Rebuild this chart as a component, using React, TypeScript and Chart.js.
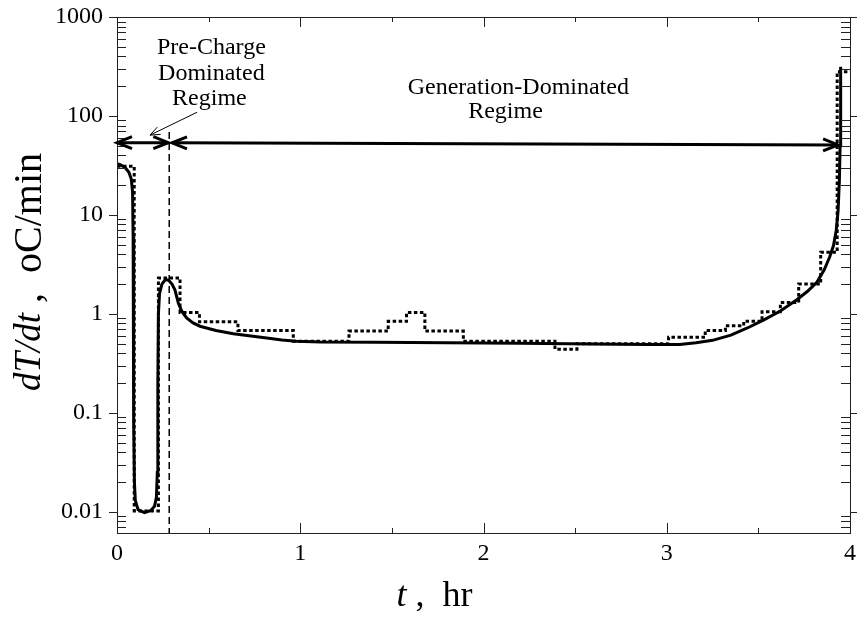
import React, { useEffect, useRef } from 'react';
import { Chart, registerables } from 'chart.js';

Chart.register(...registerables);

// ---- data ----
const modelT = [0, 0.02, 0.045, 0.065, 0.078, 0.085, 0.088, 0.09, 0.092, 0.095, 0.1, 0.115, 0.15, 0.185, 0.205, 0.215, 0.22, 0.223, 0.226, 0.232, 0.245, 0.262, 0.28, 0.3, 0.316, 0.335, 0.355, 0.38, 0.415, 0.453, 0.54, 0.635, 0.72, 0.817, 0.9, 0.98, 1.11, 1.4, 1.8, 2.2, 2.6, 2.9, 3.07, 3.16, 3.25, 3.35, 3.44, 3.53, 3.62, 3.71, 3.77, 3.82, 3.86, 3.89, 3.91, 3.925, 3.935, 3.942, 3.946, 3.948, 3.95];
const modelRate = [33, 32, 30, 27, 23, 17, 6, 0.8, 0.08, 0.02, 0.013, 0.0105, 0.0098, 0.0103, 0.0114, 0.014, 0.025, 0.2, 1.0, 1.6, 2.0, 2.2, 2.2, 2.0, 1.75, 1.28, 1.05, 0.91, 0.81, 0.75, 0.68, 0.63, 0.6, 0.57, 0.545, 0.53, 0.52, 0.515, 0.51, 0.505, 0.495, 0.49, 0.49, 0.51, 0.54, 0.61, 0.72, 0.87, 1.07, 1.39, 1.7, 2.1, 2.8, 3.8, 4.9, 7, 11, 22, 50, 120, 315];

const measT = [0, 0.094, 0.226, 0.344, 0.45, 0.66, 0.962, 1.266, 1.48, 1.58, 1.68, 1.89, 2.39, 2.51, 3.01, 3.21, 3.32, 3.42, 3.52, 3.62, 3.72, 3.84, 3.93, 4.0];
const measRate = [31, 0.0102, 2.3, 1.03, 0.83, 0.68, 0.53, 0.67, 0.84, 1.03, 0.67, 0.53, 0.44, 0.5, 0.58, 0.68, 0.76, 0.84, 1.05, 1.3, 2.0, 4.2, 280, 280];

const xTickValues = [0, 1, 2, 3, 4];
const xTickLabels = ['0', '1', '2', '3', '4'];
const yTickValues = [0.01, 0.1, 1, 10, 100, 1000];
const yTickLabels = ['0.01', '0.1', '1', '10', '100', '1000'];

// regime annotations (data units)
const regimeBoundaryT = 0.285;
const regimeBoundaryTop = 69;
const preArrow = { t0: 0, t1: 0.28, v0: 53.7, v1: 53.7 };
const genArrow = { t0: 0.3, t1: 3.935, v0: 53.5, v1: 51 };
const pointer = { t0: 0.437, v0: 109, t1: 0.18, v1: 64 };
const preLabel = ['Pre-Charge', 'Dominated', 'Regime'];
const genLabel = ['Generation-Dominated', 'Regime'];

const X_MIN = 0, X_MAX = 4, Y_MIN = 0.0061, Y_MAX = 1000;
const SERIF = '"Liberation Serif", "Times New Roman", serif';

function arrowHead(ctx: CanvasRenderingContext2D, x: number, y: number, ang: number, len: number, half: number) {
  const bx = x - len * Math.cos(ang), by = y - len * Math.sin(ang);
  const px = -Math.sin(ang) * half, py = Math.cos(ang) * half;
  ctx.beginPath();
  ctx.moveTo(bx + px, by + py);
  ctx.lineTo(x, y);
  ctx.lineTo(bx - px, by - py);
  ctx.stroke();
}

const decorPlugin = {
  id: 'decor',
  afterDraw(chart: any) {
    const ctx: CanvasRenderingContext2D = chart.ctx;
    const xs = chart.scales.x, ys = chart.scales.y;
    const { left, right, top, bottom } = chart.chartArea;
    ctx.save();
    // frame
    ctx.strokeStyle = '#222';
    ctx.lineWidth = 1;
    ctx.strokeRect(Math.round(left) + 0.5, Math.round(top) + 0.5, Math.round(right - left), Math.round(bottom - top));
    // y ticks
    ctx.beginPath();
    for (let d = -3; d <= 3; d++) {
      for (let m = 1; m <= 9; m++) {
        const v = m * Math.pow(10, d);
        if (v < Y_MIN * 0.999 || v > Y_MAX * 1.001) continue;
        const py = Math.round(ys.getPixelForValue(v)) + 0.5;
        if (m === 1) {
          ctx.moveTo(left - 8, py); ctx.lineTo(left, py);
          ctx.moveTo(right, py); ctx.lineTo(right + 7, py);
        } else {
          ctx.moveTo(left, py); ctx.lineTo(left + 9, py);
          ctx.moveTo(right - 9, py); ctx.lineTo(right, py);
        }
      }
    }
    // x ticks
    for (let i = 1; i < 8; i++) {
      const t = i * 0.5;
      const px = Math.round(xs.getPixelForValue(t)) + 0.5;
      const len = i % 2 === 0 ? 10 : 5;
      ctx.moveTo(px, bottom); ctx.lineTo(px, bottom - len);
      ctx.moveTo(px, top); ctx.lineTo(px, top + len);
    }
    ctx.stroke();

    // regime boundary dashed line
    const bx = xs.getPixelForValue(regimeBoundaryT);
    ctx.strokeStyle = '#000';
    ctx.lineWidth = 1.5;
    ctx.setLineDash([7, 4]);
    ctx.beginPath();
    ctx.moveTo(bx, ys.getPixelForValue(regimeBoundaryTop));
    ctx.lineTo(bx, bottom);
    ctx.stroke();
    ctx.setLineDash([]);

    // double arrows
    ctx.lineWidth = 3;
    ctx.lineCap = 'butt';
    for (const a of [preArrow, genArrow]) {
      const x0 = xs.getPixelForValue(a.t0), y0 = ys.getPixelForValue(a.v0);
      const x1 = xs.getPixelForValue(a.t1), y1 = ys.getPixelForValue(a.v1);
      ctx.beginPath(); ctx.moveTo(x0, y0); ctx.lineTo(x1, y1); ctx.stroke();
      const ang = Math.atan2(y1 - y0, x1 - x0);
      arrowHead(ctx, x1, y1, ang, 15, 6);
      arrowHead(ctx, x0, y0, ang + Math.PI, 15, 6);
    }
    // thin pointer arrow
    ctx.lineWidth = 1;
    {
      const x0 = xs.getPixelForValue(pointer.t0), y0 = ys.getPixelForValue(pointer.v0);
      const x1 = xs.getPixelForValue(pointer.t1), y1 = ys.getPixelForValue(pointer.v1);
      ctx.beginPath(); ctx.moveTo(x0, y0); ctx.lineTo(x1, y1); ctx.stroke();
      arrowHead(ctx, x1, y1, Math.atan2(y1 - y0, x1 - x0), 10, 4);
    }

    // labels
    ctx.fillStyle = '#000';
    ctx.font = `24px ${SERIF}`;
    ctx.textAlign = 'center';
    ctx.textBaseline = 'middle';
    const preX = xs.getPixelForValue(0.515);
    ctx.fillText(preLabel[0], preX, top + 30.5);
    ctx.fillText(preLabel[1], preX, top + 56.5);
    ctx.fillText(preLabel[2], preX - 2, top + 81.5);
    ctx.fillText(genLabel[0], xs.getPixelForValue(2.19), top + 70.5);
    ctx.fillText(genLabel[1], xs.getPixelForValue(2.12), top + 95);

    // y title
    ctx.save();
    ctx.translate(30, 272);
    ctx.rotate(-Math.PI / 2);
    ctx.textAlign = 'left';
    const it = 'dT/dt', rest = ' ,  oC/min';
    const fIt = `italic 37px ${SERIF}`, fRest = `40px ${SERIF}`;
    ctx.font = fIt;
    const w1 = ctx.measureText(it).width;
    ctx.font = fRest;
    const w2 = ctx.measureText(rest).width;
    const sx = -(w1 + w2) / 2;
    ctx.font = fIt;
    ctx.fillText(it, sx, 0);
    ctx.font = fRest;
    ctx.fillText(rest, sx + w1, 0);
    ctx.restore();

    // x title
    {
      ctx.textAlign = 'left';
      const t1 = 't', t2 = ' ,  hr';
      ctx.font = `italic 36px ${SERIF}`;
      const a = ctx.measureText(t1).width;
      ctx.font = `36px ${SERIF}`;
      const b = ctx.measureText(t2).width;
      const cx = (left + right) / 2 - 49;
      const sx2 = cx - (a + b) / 2;
      ctx.font = `italic 36px ${SERIF}`;
      ctx.fillText(t1, sx2, 597);
      ctx.font = `36px ${SERIF}`;
      ctx.fillText(t2, sx2 + a, 597);
    }
    ctx.restore();
  },
};

export default function App() {
  const ref = useRef<HTMLCanvasElement | null>(null);
  useEffect(() => {
    if (!ref.current) return;
    const model = modelT.map((t, i) => ({ x: t, y: modelRate[i] }));
    const meas = measT.map((t, i) => ({ x: t, y: measRate[i] }));
    const chart = new Chart(ref.current, {
      type: 'line',
      data: {
        datasets: [
          {
            label: 'Model',
            data: model,
            borderColor: '#000',
            borderWidth: 3,
            pointRadius: 0,
            tension: 0,
            fill: false,
          },
          {
            label: 'Measured',
            data: meas,
            borderColor: '#000',
            borderWidth: 3,
            borderDash: [3.5, 2.5],
            borderCapStyle: 'butt',
            pointRadius: 0,
            stepped: true,
            fill: false,
          },
        ],
      },
      options: {
        responsive: false,
        animation: false,
        layout: { padding: { top: 17, right: 11, left: 0, bottom: 0 } },
        plugins: { legend: { display: false }, tooltip: { enabled: false } },
        scales: {
          x: {
            type: 'linear',
            min: X_MIN,
            max: X_MAX,
            grid: { display: false, drawTicks: false },
            border: { display: false },
            afterBuildTicks: (s: any) => { s.ticks = xTickValues.map((v) => ({ value: v })); },
            afterFit: (s: any) => { s.height = 88; s.paddingLeft = 0; s.paddingRight = 0; },
            ticks: {
              padding: 6,
              color: '#000',
              font: { family: SERIF, size: 24 },
              maxRotation: 0,
              autoSkip: false,
              callback: (_v: any, i: number) => xTickLabels[i],
            },
          },
          y: {
            type: 'logarithmic',
            min: Y_MIN,
            max: Y_MAX,
            grid: { display: false, drawTicks: false },
            border: { display: false },
            afterBuildTicks: (s: any) => { s.ticks = yTickValues.map((v) => ({ value: v })); },
            afterFit: (s: any) => { s.width = 117; s.paddingTop = 0; s.paddingBottom = 0; },
            ticks: {
              padding: 14,
              color: '#000',
              font: { family: SERIF, size: 24 },
              autoSkip: false,
              callback: (_v: any, i: number) => yTickLabels[i],
            },
          },
        },
      },
      plugins: [decorPlugin],
    });
    return () => chart.destroy();
  }, []);
  return (
    <div style={{ position: 'fixed', left: 0, top: 0, width: 861, height: 621, background: '#fff' }}>
      <canvas ref={ref} width={861} height={621} style={{ display: 'block' }} />
    </div>
  );
}
